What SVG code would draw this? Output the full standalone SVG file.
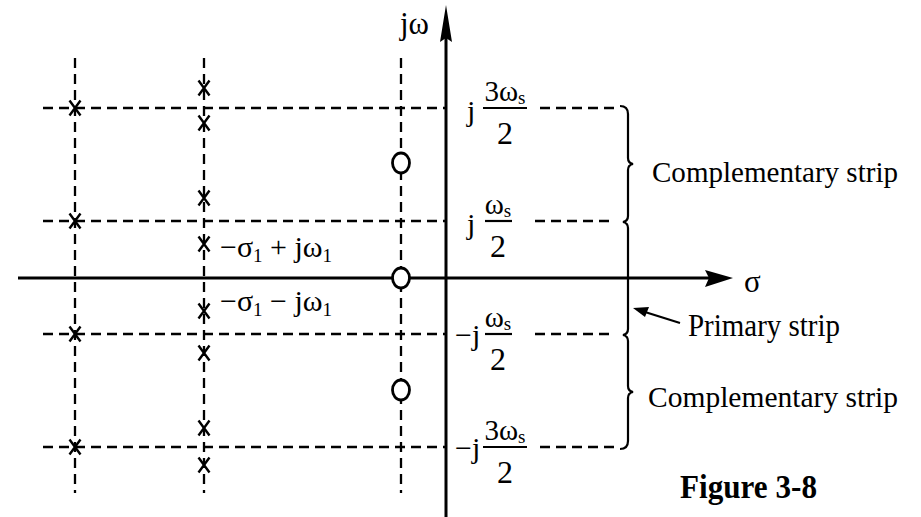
<svg xmlns="http://www.w3.org/2000/svg" xmlns:xlink="http://www.w3.org/1999/xlink" width="921" height="517" viewBox="0 0 921 517">
<style>
.dash{stroke:#000;stroke-width:2.3;stroke-dasharray:10 6;fill:none}
.axis{stroke:#000;stroke-width:3;fill:none}
.t{font-family:"Liberation Serif","Times New Roman",serif;fill:#000}
.pole{stroke:#000;stroke-width:2.4;fill:none}
.zero{stroke:#000;stroke-width:2.8;fill:#fff}
.thin{stroke:#000;stroke-width:2.2;fill:none}
</style>
<defs>
<path id="x" d="M-5.5 -7.5 L5.5 7.5 M5.5 -7.5 L-5.5 7.5" class="pole"/>
</defs>
<rect width="921" height="517" fill="#fff"/>
<g id="connectors">
  <g id="grid">
    <line class="dash" x1="75" y1="58" x2="75" y2="493"/>
    <line class="dash" x1="204" y1="58" x2="204" y2="493"/>
    <line class="dash" x1="401" y1="58" x2="401" y2="493"/>
    <line class="dash" x1="43" y1="108" x2="446" y2="108"/>
    <line class="dash" x1="43" y1="221" x2="446" y2="221"/>
    <line class="dash" x1="43" y1="334" x2="446" y2="334"/>
    <line class="dash" x1="43" y1="447" x2="446" y2="447"/>
    <line class="dash" x1="540" y1="108" x2="614" y2="108"/>
    <line class="dash" x1="535" y1="221" x2="614" y2="221"/>
    <line class="dash" x1="535" y1="334" x2="614" y2="334"/>
    <line class="dash" x1="540" y1="447" x2="614" y2="447"/>
  </g>
  <g id="axes">
    <line class="axis" x1="18" y1="278" x2="712" y2="278"/>
    <polygon points="733,278 705,270 709,278 705,287" fill="#000"/>
    <line class="axis" x1="446" y1="517" x2="446" y2="36"/>
    <polygon points="446,5 440,42 446,38 452,42" fill="#000"/>
  </g>
  <path id="braces" class="thin" d="M620 106 Q628 106 628 114 L628 158 Q628 163 633 164 Q628 165 628 170 L628 216 Q628 221 623 222 Q628 223 628 228 L628 329 Q628 334 623 335 Q628 336 628 341 L628 386 Q628 391 633 392 Q628 393 628 398 L628 441 Q628 449 620 449"/>
  <g id="primary-arrow">
    <line class="thin" x1="680" y1="323" x2="645" y2="312"/>
    <polygon points="633,308 649,307 645,317" fill="#000"/>
  </g>
</g>
<g id="poles">
  <use xlink:href="#x" x="75" y="108"/>
  <use xlink:href="#x" x="75" y="221"/>
  <use xlink:href="#x" x="75" y="334"/>
  <use xlink:href="#x" x="75" y="447"/>
  <use xlink:href="#x" x="204" y="88"/>
  <use xlink:href="#x" x="204" y="123"/>
  <use xlink:href="#x" x="204" y="198"/>
  <use xlink:href="#x" x="204" y="244"/>
  <use xlink:href="#x" x="204" y="311"/>
  <use xlink:href="#x" x="204" y="353"/>
  <use xlink:href="#x" x="204" y="428"/>
  <use xlink:href="#x" x="204" y="465"/>
</g>
<g id="zeros">
  <ellipse class="zero" cx="401" cy="163" rx="8.5" ry="10"/>
  <ellipse class="zero" cx="401" cy="278" rx="8.5" ry="10"/>
  <ellipse class="zero" cx="401" cy="390" rx="8.5" ry="10"/>
</g>
<g id="axis-labels">
  <text class="t" x="400" y="34" font-size="31">jω</text>
  <text class="t" x="744" y="292" font-size="31">σ</text>
</g>
<g id="pole-labels">
  <text class="t" x="220" y="257" font-size="30">−σ<tspan font-size="19" dy="5">1</tspan><tspan dy="-5"> + jω</tspan><tspan font-size="19" dy="5">1</tspan></text>
  <text class="t" x="220" y="311" font-size="30">−σ<tspan font-size="19" dy="5">1</tspan><tspan dy="-5"> − jω</tspan><tspan font-size="19" dy="5">1</tspan></text>
</g>
<g id="freq-labels">
  <g id="l-3ws">
    <text class="t" x="467" y="121" font-size="30">j</text>
    <text class="t" x="505" y="101" font-size="29" text-anchor="middle">3ω<tspan font-size="19" dy="3">s</tspan></text>
    <line class="thin" x1="483" y1="108" x2="527" y2="108"/>
    <text class="t" x="505" y="144" font-size="32" text-anchor="middle">2</text>
  </g>
  <g id="l-ws">
    <text class="t" x="467" y="234" font-size="30">j</text>
    <text class="t" x="498" y="214" font-size="29" text-anchor="middle">ω<tspan font-size="19" dy="3">s</tspan></text>
    <line class="thin" x1="485" y1="221" x2="512" y2="221"/>
    <text class="t" x="498" y="257" font-size="32" text-anchor="middle">2</text>
  </g>
  <g id="l-mws">
    <text class="t" x="455" y="345" font-size="30">−j</text>
    <text class="t" x="498" y="327" font-size="29" text-anchor="middle">ω<tspan font-size="19" dy="3">s</tspan></text>
    <line class="thin" x1="485" y1="334" x2="512" y2="334"/>
    <text class="t" x="498" y="370" font-size="32" text-anchor="middle">2</text>
  </g>
  <g id="l-m3ws">
    <text class="t" x="455" y="458" font-size="30">−j</text>
    <text class="t" x="505" y="440" font-size="29" text-anchor="middle">3ω<tspan font-size="19" dy="3">s</tspan></text>
    <line class="thin" x1="483" y1="447" x2="527" y2="447"/>
    <text class="t" x="505" y="483" font-size="32" text-anchor="middle">2</text>
  </g>
</g>
<g id="strip-labels">
  <text class="t" x="652" y="182" font-size="30" textLength="246" lengthAdjust="spacingAndGlyphs">Complementary strip</text>
  <text class="t" x="688" y="336" font-size="31" textLength="152" lengthAdjust="spacingAndGlyphs">Primary strip</text>
  <text class="t" x="648" y="407" font-size="30" textLength="250" lengthAdjust="spacingAndGlyphs">Complementary strip</text>
</g>
<g id="caption">
  <text class="t" x="680" y="498" font-size="34" font-weight="bold" textLength="137" lengthAdjust="spacingAndGlyphs">Figure 3-8</text>
</g>
</svg>
